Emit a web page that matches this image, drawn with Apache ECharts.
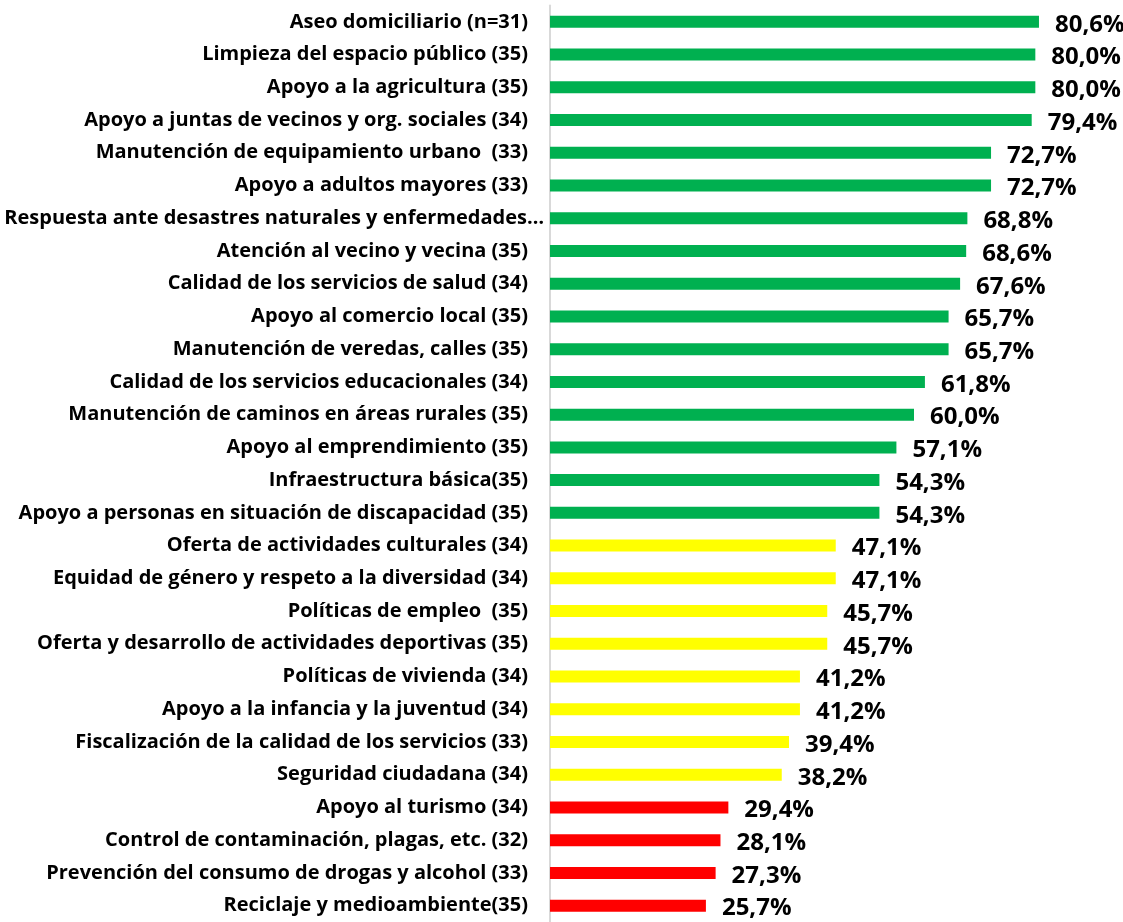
<!DOCTYPE html>
<html>
<head>
<meta charset="utf-8">
<script src="https://cdn.jsdelivr.net/npm/echarts@6/dist/echarts.min.js"></script>
<style>
  html, body { margin: 0; padding: 0; background: #ffffff; }
  #chart { width: 1123px; height: 922px; }
</style>
</head>
<body>
<div id="chart"></div>
<script>
// Servicios municipales: porcentaje de evaluación positiva
const categories = [
  'Aseo domiciliario (n=31)',
  'Limpieza del espacio público (35)',
  'Apoyo a la agricultura (35)',
  'Apoyo a juntas de vecinos y org. sociales (34)',
  'Manutención de equipamiento urbano  (33)',
  'Apoyo a adultos mayores (33)',
  'Respuesta ante desastres naturales y enfermedades…',
  'Atención al vecino y vecina (35)',
  'Calidad de los servicios de salud (34)',
  'Apoyo al comercio local (35)',
  'Manutención de veredas, calles (35)',
  'Calidad de los servicios educacionales (34)',
  'Manutención de caminos en áreas rurales (35)',
  'Apoyo al emprendimiento (35)',
  'Infraestructura básica(35)',
  'Apoyo a personas en situación de discapacidad (35)',
  'Oferta de actividades culturales (34)',
  'Equidad de género y respeto a la diversidad (34)',
  'Políticas de empleo  (35)',
  'Oferta y desarrollo de actividades deportivas (35)',
  'Políticas de vivienda (34)',
  'Apoyo a la infancia y la juventud (34)',
  'Fiscalización de la calidad de los servicios (33)',
  'Seguridad ciudadana (34)',
  'Apoyo al turismo (34)',
  'Control de contaminación, plagas, etc. (32)',
  'Prevención del consumo de drogas y alcohol (33)',
  'Reciclaje y medioambiente(35)'
];

const values = [
  80.6, 80.0, 80.0, 79.4, 72.7, 72.7, 68.8, 68.6, 67.6, 65.7,
  65.7, 61.8, 60.0, 57.1, 54.3, 54.3, 47.1, 47.1, 45.7, 45.7,
  41.2, 41.2, 39.4, 38.2, 29.4, 28.1, 27.3, 25.7
];

// Semáforo: verde >= 50, amarillo 30–50, rojo < 30
const tierColors = { high: '#00B050', mid: '#FFFF00', low: '#FF0000' };
function tierColor(v) {
  if (v >= 50) return tierColors.high;
  if (v >= 30) return tierColors.mid;
  return tierColors.low;
}

const chart = echarts.init(document.getElementById('chart'));
const fontFamily = '"Open Sans", sans-serif';

// Truncated (ellipsis) labels sit closer to the axis than complete ones
const axisData = categories.map(c => c.endsWith('…')
  ? { value: c, textStyle: { padding: [0, 0, 0, 0] } }
  : c);

chart.setOption({
  animation: false,
  backgroundColor: '#ffffff',
  grid: { left: 550, top: 5.5, height: 921, right: 27 },
  xAxis: {
    type: 'value',
    min: 0,
    max: 90,
    show: false
  },
  yAxis: {
    type: 'category',
    data: axisData,
    inverse: true,
    axisLine: { show: true, lineStyle: { color: '#d9d9d9', width: 2 } },
    axisTick: { show: false },
    axisLabel: {
      margin: 6,
      padding: [0, 16, 0, 0],
      color: '#000000',
      fontFamily: fontFamily,
      fontWeight: 'bold',
      fontSize: 20
    },
    splitLine: { show: false }
  },
  series: [{
    type: 'bar',
    barWidth: 12,
    data: values.map(v => ({ value: v, itemStyle: { color: tierColor(v) } })),
    label: {
      show: true,
      position: 'right',
      distance: 16,
      offset: [0, 3],
      color: '#000000',
      fontFamily: fontFamily,
      fontWeight: 'bold',
      fontSize: 24,
      formatter: p => p.value.toFixed(1).replace('.', ',') + '%'
    }
  }]
});
</script>
</body>
</html>
